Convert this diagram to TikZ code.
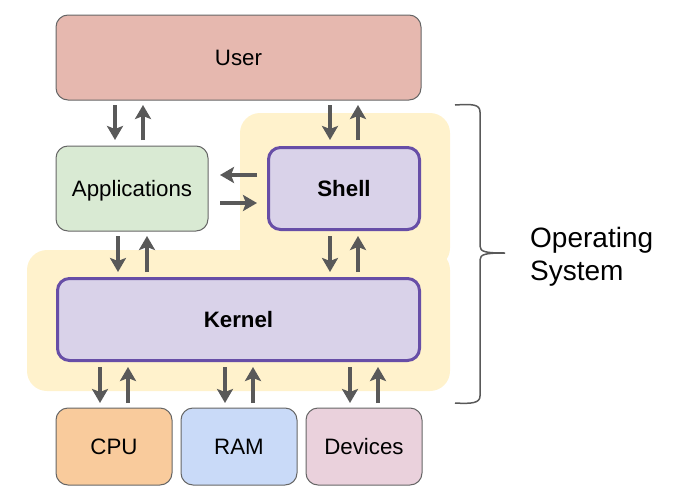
\documentclass[tikz,border=0pt]{standalone}
\usepackage{fontspec}
\setmainfont{Liberation Sans}
\usetikzlibrary{arrows.meta}
\definecolor{usercol}{HTML}{E6B8AF}
\definecolor{appcol}{HTML}{D9EAD3}
\definecolor{oscol}{HTML}{D9D2E9}
\definecolor{osline}{HTML}{674EA7}
\definecolor{cpucol}{HTML}{F9CB9C}
\definecolor{ramcol}{HTML}{C9DAF8}
\definecolor{devcol}{HTML}{EAD1DC}
\definecolor{bgcol}{HTML}{FFF2CC}
\definecolor{grayline}{HTML}{666666}
\definecolor{arrcol}{HTML}{595959}
\tikzset{
  box/.style={draw=grayline, line width=1pt, rounded corners=12pt, inner sep=0pt, outer sep=0pt,
    text height=16pt, text depth=0pt, font=\fontsize{22.3}{26}\selectfont},
  osbox/.style={draw=osline, line width=3pt, fill=oscol, rounded corners=12pt, inner sep=0pt, outer sep=0pt,
    text height=16pt, text depth=0pt, font=\fontsize{22.3}{26}\selectfont\bfseries},
  arr/.style={draw=arrcol, line width=3.5pt, -{Stealth[length=14pt,width=16pt,inset=3pt]}},
  bgshape/.style={fill=bgcol, rounded corners=20pt},
  bracepath/.style={draw=arrcol, line width=1.5pt}
}
\begin{document}
\begin{tikzpicture}[x=1pt,y=-1pt]
\useasboundingbox (0,0) rectangle (686,498);
% yellow background
\fill[bgshape] (240,113) rectangle (450,268);
\fill[bgshape] (27,250) rectangle (450,391);
% boxes
\node[box, fill=usercol, minimum width=365pt, minimum height=85pt] (user) at (238.5,57.5) {User};
\node[box, fill=appcol, minimum width=152pt, minimum height=85pt] (apps) at (132,188.5) {Applications};
\node[osbox, minimum width=151pt, minimum height=82pt] (shell) at (344,188.5) {Shell};
\node[osbox, minimum width=362pt, minimum height=82pt] (kernel) at (238.5,319.5) {Kernel};
\node[box, fill=cpucol, minimum width=116pt, minimum height=77pt] (cpu) at (114,446.5) {CPU};
\node[box, fill=ramcol, minimum width=116pt, minimum height=77pt] (ram) at (239,446.5) {RAM};
\node[box, fill=devcol, minimum width=116pt, minimum height=77pt] (dev) at (364,446.5) {Devices};
% user <-> apps
\draw[arr] ([xshift=59pt,yshift=-5pt]user.south west) -- ([xshift=59pt,yshift=6pt]apps.north west);
\draw[arr] ([xshift=87pt,yshift=6pt]apps.north west) -- ([xshift=87pt,yshift=-5pt]user.south west);
% user <-> shell
\draw[arr] ([xshift=274pt,yshift=-5pt]user.south west) -- ([xshift=61.5pt,yshift=7.5pt]shell.north west);
\draw[arr] ([xshift=89.5pt,yshift=7.5pt]shell.north west) -- ([xshift=302pt,yshift=-5pt]user.south west);
% apps <-> shell
\draw[arr] ([xshift=-11.5pt,yshift=-27.5pt]shell.north west) -- ([xshift=12pt,yshift=-29pt]apps.north east);
\draw[arr] ([xshift=12pt,yshift=-57pt]apps.north east) -- ([xshift=-11.5pt,yshift=-55.5pt]shell.north west);
% apps <-> kernel
\draw[arr] ([xshift=62pt,yshift=-5pt]apps.south west) -- ([xshift=60.5pt,yshift=6.5pt]kernel.north west);
\draw[arr] ([xshift=89.5pt,yshift=6.5pt]kernel.north west) -- ([xshift=91pt,yshift=-5pt]apps.south west);
% shell <-> kernel
\draw[arr] ([xshift=61.5pt,yshift=-6.5pt]shell.south west) -- ([xshift=272.5pt,yshift=6.5pt]kernel.north west);
\draw[arr] ([xshift=300.5pt,yshift=6.5pt]kernel.north west) -- ([xshift=89.5pt,yshift=-6.5pt]shell.south west);
% kernel <-> cpu, ram, devices
\draw[arr] ([xshift=42.5pt,yshift=-6.5pt]kernel.south west) -- ([xshift=44pt,yshift=5pt]cpu.north west);
\draw[arr] ([xshift=72pt,yshift=5pt]cpu.north west) -- ([xshift=70.5pt,yshift=-6.5pt]kernel.south west);
\draw[arr] ([xshift=167.5pt,yshift=-6.5pt]kernel.south west) -- ([xshift=44pt,yshift=5pt]ram.north west);
\draw[arr] ([xshift=72pt,yshift=5pt]ram.north west) -- ([xshift=195.5pt,yshift=-6.5pt]kernel.south west);
\draw[arr] ([xshift=292.5pt,yshift=-6.5pt]kernel.south west) -- ([xshift=44pt,yshift=5pt]dev.north west);
\draw[arr] ([xshift=72pt,yshift=5pt]dev.north west) -- ([xshift=320.5pt,yshift=-6.5pt]kernel.south west);
% brace
\draw[bracepath] (455,105) .. controls (472,104) and (480,104) .. (480,112) -- (480,246)
  .. controls (480,252) and (486,253) .. (505,253)
  .. controls (486,253) and (480,254) .. (480,260) -- (480,396)
  .. controls (480,403) and (472,404) .. (455,403);
\node[anchor=west, align=left, inner sep=0pt, font=\fontsize{28}{33}\selectfont] (os) at (530,257) {Operating\\System};
\end{tikzpicture}
\end{document}
